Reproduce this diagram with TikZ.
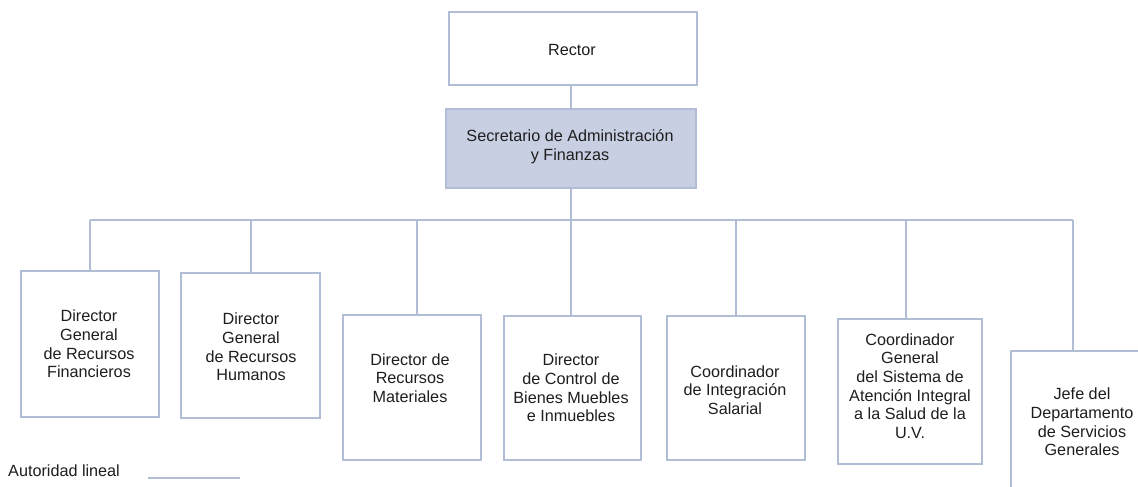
\documentclass[tikz,border=0pt]{standalone}
\usepackage{fontspec}
\setmainfont{Liberation Sans}
\definecolor{bordc}{RGB}{176,189,212}
\definecolor{secfill}{RGB}{201,207,226}
\definecolor{txtc}{RGB}{30,30,30}
\begin{document}
\begin{tikzpicture}[x=1pt,y=-1pt,
  orgbox/.style={draw=bordc,line width=1.6pt,anchor=north west,inner sep=0pt,fill=white},
  lbl/.style={align=center,text=txtc,font=\fontsize{16.2}{18.6}\selectfont,inner sep=0pt},
  conn/.style={draw=bordc,line width=1.6pt}]
\clip (0,0) rectangle (1138,487);
\fill[white] (0,0) rectangle (1138,487);
% boxes
\node[orgbox,minimum width=248pt,minimum height=73pt] (rector) at (448,11) {};
\node[orgbox,fill=secfill,minimum width=250pt,minimum height=79pt] (sec) at (445,108) {};
\node[orgbox,minimum width=138pt,minimum height=146pt] (b1) at (20,270) {};
\node[orgbox,minimum width=139pt,minimum height=145pt] (b2) at (180,272) {};
\node[orgbox,minimum width=138pt,minimum height=145pt] (b3) at (342,314) {};
\node[orgbox,minimum width=137pt,minimum height=144pt] (b4) at (503,315) {};
\node[orgbox,minimum width=138pt,minimum height=144pt] (b5) at (666,315) {};
\node[orgbox,minimum width=144pt,minimum height=145pt] (b6) at (837,318) {};
\node[orgbox,minimum width=150pt,minimum height=160pt] (b7) at (1010,350) {};
% texts
\node[lbl] (t0) at (572,50) {Rector};
\node[lbl] (ts) at (570,147) {Secretario de Administración\\y Finanzas};
\node[lbl] (t1) at (89,344) {Director\\General\\de Recursos\\Financieros};
\node[lbl] (t2) at (251,347) {Director\\General\\de Recursos\\Humanos};
\node[lbl] (t3) at (410,378) {Director de\\Recursos\\Materiales};
\node[lbl] (t4) at (571,388) {Director\\de Control de\\Bienes Muebles\\e Inmuebles};
\node[lbl] (t5) at (735,390) {Coordinador\\de Integración\\Salarial};
\node[lbl] (t6) at (910,386) {Coordinador\\General\\del Sistema de\\Atención Integral\\a la Salud de la\\U.V.};
\node[lbl] (t7) at (1082,422) {Jefe del\\Departamento\\de Servicios\\Generales};
% bus coordinates
\coordinate (busL) at (90,220);
\coordinate (busR) at (1073,220);
\coordinate (busS) at (571,220);
% connectors
\draw[conn] (rector.south -| busS) -- (sec.north -| busS);
\draw[conn] (sec.south -| busS) -- (busS);
\draw[conn] (busL) -- (busR);
\draw[conn] (busL) -- (b1.north -| busL);
\draw[conn] (251,220) -- (b2.north -| 251,0);
\draw[conn] (417,220) -- (b3.north -| 417,0);
\draw[conn] (busS) -- (b4.north -| busS);
\draw[conn] (736,220) -- (b5.north -| 736,0);
\draw[conn] (906,220) -- (b6.north -| 906,0);
\draw[conn] (busR) -- (b7.north -| busR);
% legend
\node[lbl,anchor=west] (leg) at (8,471) {Autoridad lineal};
\coordinate (legA) at (148,478);
\coordinate (legB) at (240,478);
\draw[conn] (legA) -- (legB);
\end{tikzpicture}
\end{document}
